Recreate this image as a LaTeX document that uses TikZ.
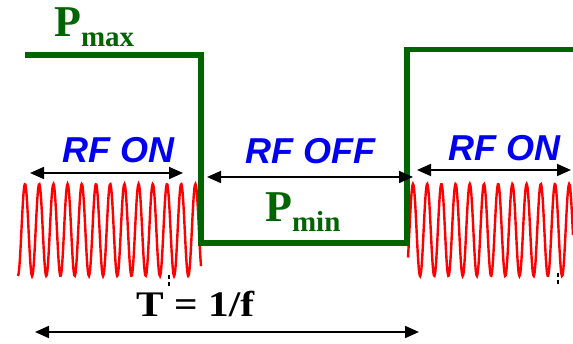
\documentclass[tikz,border=0pt]{standalone}
\usepackage{fontspec}
\setmainfont{Liberation Serif}
\newfontfamily\rffont{Liberation Sans}
\usetikzlibrary{arrows.meta}
\definecolor{pgreen}{RGB}{0,100,0}
\definecolor{rfblue}{RGB}{0,0,240}
\begin{document}
\begin{tikzpicture}[x=1pt, y=-1pt,
  pulse/.style={pgreen, line width=5.5pt},
  wave/.style={red, line width=2.4pt},
  span/.style={black, line width=1.8pt, {Triangle[length=14pt,width=12pt]}-{Triangle[length=14pt,width=12pt]}},
  rf/.style={rfblue, font=\rffont\bfseries\itshape\fontsize{36}{36}\selectfont, inner sep=0pt, anchor=base west},
  plabel/.style={pgreen, font=\bfseries\fontsize{44}{44}\selectfont, inner sep=0pt, anchor=base west},
  tick/.style={black, line width=1.5pt, dash pattern=on 4pt off 3pt}]
\useasboundingbox (0,0) rectangle (573,344);
\def\wl{14.2}
% RF bursts
\draw[wave] plot[domain=18:201, samples=300, smooth] (\x, {230-46*sin(((\x-25)/\wl+0.25)*360)});
\draw[wave] plot[domain=408:573, samples=300, smooth] (\x, {230-46*sin(((\x-413)/\wl+0.25)*360)});
% power level
\draw[pulse] (25,55) -- (201,55) -- (201,243) -- (407,243) -- (407,49.5) -- (573,49.5);
% labels
\node[plabel] (pmax) at (54,37) {P\raisebox{-10pt}{\fontsize{29}{30}\selectfont max}};
\node[plabel] (pmin) at (265,222) {P\raisebox{-10pt}{\fontsize{29}{30}\selectfont min}};
\node[rf] (on1) at (62,163) {RF ON};
\node[rf] (off) at (245,164) {RF OFF};
\node[rf] (on2) at (448,161) {RF ON};
\node[inner sep=0pt, anchor=base west, font=\bfseries\fontsize{36}{36}\selectfont] (per) at (136,317) {\scalebox{1.15}[1]{T = 1/f}};
% spans
\coordinate (on1a) at (30,173);  \coordinate (on1b) at (183,173);
\coordinate (offa) at (207,177); \coordinate (offb) at (413,177);
\coordinate (on2a) at (417,170); \coordinate (on2b) at (571,170);
\coordinate (pera) at (35,332);  \coordinate (perb) at (419,332);
\foreach \a/\b in {on1a/on1b, offa/offb, on2a/on2b, pera/perb}
  \draw[span] (\a) -- (\b);
% ticks
\coordinate (t1a) at (169,275); \coordinate (t1b) at (169,288);
\coordinate (t2a) at (558,273); \coordinate (t2b) at (558,284);
\draw[tick] (t1a) -- (t1b);
\draw[tick] (t2a) -- (t2b);
\end{tikzpicture}
\end{document}
